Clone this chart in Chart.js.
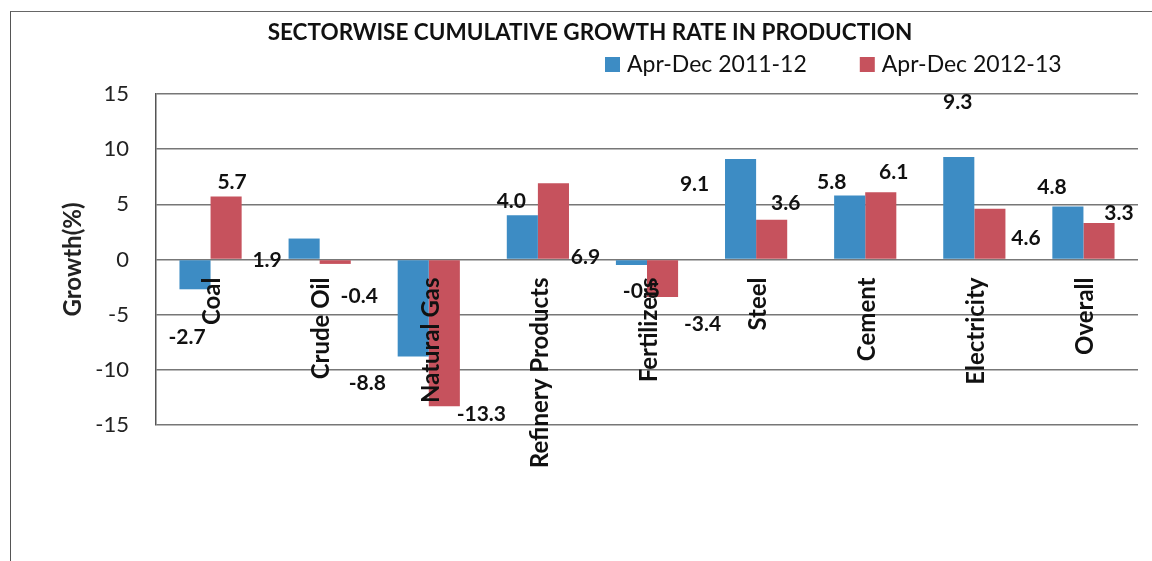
<!DOCTYPE html>
<html>
<head>
<meta charset="utf-8">
<title>Sectorwise cumulative growth rate</title>
<script src="https://cdn.jsdelivr.net/npm/chart.js@4.4.1/dist/chart.umd.min.js"></script>
<style>
  html, body { margin: 0; padding: 0; background: #fff; }
  .frame { position: relative; width: 1152px; height: 561px; overflow: hidden; background: #fff; }
  .frame .edge { position: absolute; left: 10px; top: 11px; width: 1300px; height: 700px;
    border-left: 1.5px solid #555; border-top: 1.5px solid #666; }
  #chart { position: absolute; left: 0; top: 0; }
</style>
</head>
<body>
<div class="frame">
  <div class="edge"></div>
  <canvas id="chart" width="1152" height="561"></canvas>
</div>
<script>
const chartTitle = 'SECTORWISE CUMULATIVE GROWTH RATE IN PRODUCTION';
const sectors = ['Coal', 'Crude Oil', 'Natural Gas', 'Refinery Products', 'Fertilizers',
  'Steel', 'Cement', 'Electricity', 'Overall'];
const seriesNames = ['Apr-Dec 2011-12', 'Apr-Dec 2012-13'];
const growth2011 = [-2.7, 1.9, -8.8, 4.0, -0.5, 9.1, 5.8, 9.3, 4.8];
const growth2012 = [5.7, -0.4, -13.3, 6.9, -3.4, 3.6, 6.1, 4.6, 3.3];
const yTicks = [-15, -10, -5, 0, 5, 10, 15];

const FONT = 'Lato, "Open Sans", sans-serif';
const BLUE = '#3d8cc4';
const RED = '#c6525d';

// where each value label sits, relative to the end of its bar (the original
// spreadsheet scattered them around, so this is just styling)
const labelShift = [
  [[-8, 48], [-37, 22], [-46, 27], [-11, -14], [10, 26], [-46, 25], [-18, -13], [-1, -55], [-16, -19]],
  [[6, -14], [24, 32], [37, 8], [32, 74], [40, 27], [14, -17], [13, -20], [36, 29], [20, -10]]
];

const headerPlugin = {
  id: 'header',
  afterDraw(chart) {
    const ctx = chart.ctx;
    ctx.save();
    ctx.fillStyle = '#111';
    ctx.textBaseline = 'middle';
    ctx.textAlign = 'center';
    ctx.font = 'bold 22.5px ' + FONT;
    ctx.fillText(chartTitle, 590, 33);

    // legend
    ctx.textAlign = 'left';
    ctx.font = '23px ' + FONT;
    let x = 605;
    chart.data.datasets.forEach((ds) => {
      ctx.fillStyle = ds.backgroundColor;
      ctx.fillRect(x, 57, 15, 15);
      ctx.fillStyle = '#111';
      ctx.fillText(ds.label, x + 22, 65);
      x += 22 + ctx.measureText(ds.label).width + 53;
    });
    ctx.restore();
  }
};

// sector names hang just under the zero line, over the bars
const sectorLabels = {
  id: 'sectorLabels',
  afterDatasetsDraw(chart) {
    const ctx = chart.ctx;
    const xs = chart.scales.x;
    const zero = chart.scales.y.getPixelForValue(0);
    ctx.save();
    ctx.font = 'bold 24px ' + FONT;
    ctx.fillStyle = '#111';
    ctx.textAlign = 'right';
    ctx.textBaseline = 'middle';
    chart.data.labels.forEach((name, i) => {
      ctx.save();
      ctx.translate(xs.getPixelForValue(i) + 2, zero + 18);
      ctx.rotate(-Math.PI / 2);
      ctx.fillText(name, 0, 0);
      ctx.restore();
    });
    ctx.restore();
  }
};

const valueLabels = {
  id: 'valueLabels',
  afterDatasetsDraw(chart) {
    const ctx = chart.ctx;
    ctx.save();
    ctx.font = 'bold 21px ' + FONT;
    ctx.fillStyle = '#111';
    ctx.textAlign = 'center';
    ctx.textBaseline = 'middle';
    chart.data.datasets.forEach((ds, i) => {
      chart.getDatasetMeta(i).data.forEach((bar, j) => {
        const [dx, dy] = labelShift[i][j];
        ctx.fillText(ds.data[j].toFixed(1), bar.x + dx, bar.y + dy);
      });
    });
    ctx.restore();
  }
};

new Chart(document.getElementById('chart'), {
  type: 'bar',
  data: {
    labels: sectors,
    datasets: [
      { label: seriesNames[0], data: growth2011, backgroundColor: BLUE },
      { label: seriesNames[1], data: growth2012, backgroundColor: RED }
    ]
  },
  options: {
    responsive: false,
    animation: false,
    layout: { padding: { top: 94, right: 14, bottom: 136, left: 0 } },
    datasets: {
      bar: { barPercentage: 1, categoryPercentage: 0.57, borderWidth: 0 }
    },
    plugins: {
      legend: { display: false },
      title: { display: false },
      tooltip: { enabled: false }
    },
    scales: {
      x: {
        position: { y: 0 },
        grid: { display: false, drawTicks: false },
        border: { display: false },
        ticks: { display: false }
      },
      y: {
        min: yTicks[0],
        max: yTicks[yTicks.length - 1],
        afterFit(scale) { scale.width = 156; },
        afterBuildTicks(scale) { scale.ticks = yTicks.map(v => ({ value: v })); },
        grid: { color: '#777', lineWidth: 1.5, drawTicks: false },
        border: { color: '#555', width: 1.5 },
        ticks: {
          padding: 27,
          color: '#222',
          font: { family: FONT, size: 22 }
        },
        title: {
          display: true,
          text: 'Growth(%)',
          color: '#222',
          padding: { top: 59, bottom: 0 },
          font: { family: FONT, size: 24, weight: 'bold' }
        }
      }
    }
  },
  plugins: [headerPlugin, sectorLabels, valueLabels]
});
</script>
</body>
</html>
